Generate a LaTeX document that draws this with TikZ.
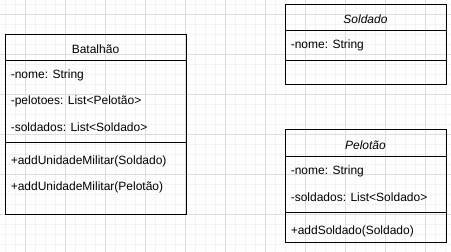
\documentclass[tikz,border=0pt]{standalone}
\usepackage{fontspec}
\setmainfont{Liberation Sans}
\definecolor{gridminor}{HTML}{F3F3F3}
\definecolor{gridmajor}{HTML}{DDDDDD}
\tikzset{
  box/.style={draw=black, line width=0.75pt},
  title/.style={font=\fontsize{9}{11}\selectfont, inner sep=0pt},
  abstitle/.style={font=\fontsize{9}{11}\selectfont\itshape, inner sep=0pt},
  member/.style={font=\fontsize{9}{11}\selectfont, anchor=west, inner sep=0pt},
}

\begin{document}
\begin{tikzpicture}[x=0.75pt, y=-0.75pt]
  \useasboundingbox (0,0) rectangle (451,252);

  % background grid, 10px minor, 40px major
  \foreach \gx in {5,15,...,445} \draw[gridminor, line width=0.75pt] (\gx,0) -- (\gx,252);
  \foreach \gy in {5,15,...,245} \draw[gridminor, line width=0.75pt] (0,\gy) -- (451,\gy);
  \foreach \gx in {25,65,...,425} \draw[gridmajor, line width=0.75pt] (\gx,0) -- (\gx,252);
  \foreach \gy in {15,55,...,215} \draw[gridmajor, line width=0.75pt] (0,\gy) -- (451,\gy);

  % Batalhao
  \draw[box] (5,35) rectangle (186,215);
  \draw[box] (5,61) -- (186,61);
  \draw[box] (5,143) -- (186,143);
  \node[title] (batTitle) at (95.5,49) {Batalhão};
  \node[member] (batNome) at (10.5,75) {-nome: String};
  \node[member] (batPelotoes) at (10.5,101) {-pelotoes: List<Pelotão>};
  \node[member] (batSoldados) at (10.5,127) {-soldados: List<Soldado>};
  \node[member] (batAddSoldado) at (10.5,161) {+addUnidadeMilitar(Soldado)};
  \node[member] (batAddPelotao) at (10.5,187) {+addUnidadeMilitar(Pelotão)};

  % Soldado
  \draw[box] (285,5) rectangle (446,85);
  \draw[box] (285,31) -- (446,31);
  \draw[box] (285,61) -- (446,61);
  \node[abstitle] (solTitle) at (365.5,19) {Soldado};
  \node[member] (solNome) at (290.5,45) {-nome: String};

  % Pelotao
  \draw[box] (285,130) rectangle (446,243);
  \draw[box] (285,157) -- (446,157);
  \draw[box] (285,213) -- (446,213);
  \node[abstitle] (pelTitle) at (365.5,145) {Pelotão};
  \node[member] (pelNome) at (290.5,171) {-nome: String};
  \node[member] (pelSoldados) at (290.5,197) {-soldados: List<Soldado>};
  \node[member] (pelAddSoldado) at (290.5,231) {+addSoldado(Soldado)};
\end{tikzpicture}
\end{document}
